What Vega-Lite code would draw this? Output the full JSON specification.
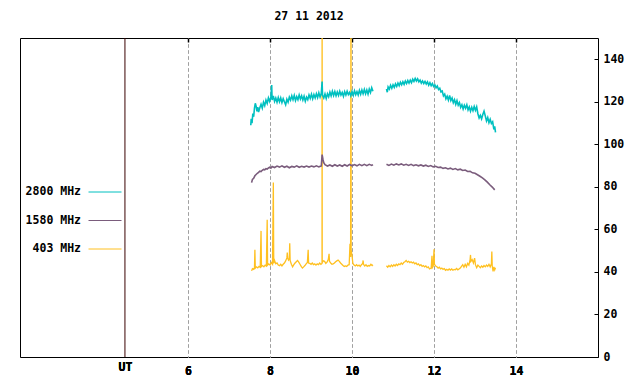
{
  "$schema": "https://vega.github.io/schema/vega-lite/v6.json",
  "width": 578,
  "height": 319,
  "autosize": {"type": "none"},
  "padding": {"left": 20, "top": 38, "right": 42, "bottom": 27},
  "title": {"text": "27 11 2012", "font": "DejaVu Sans Mono", "fontSize": 11.5, "fontWeight": "bold", "color": "#000000", "offset": 15, "anchor": "middle"},
  "config": {
    "view": {"stroke": "#000000", "strokeWidth": 1},
    "axis": {"labelFont": "DejaVu Sans Mono", "labelFontSize": 11.5, "labelFontWeight": "bold", "labelColor": "#000000", "domain": false, "title": null},
    "legend": {
      "orient": "none", "legendX": 68, "legendY": 137, "padding": 0,
      "symbolType": "stroke", "symbolSize": 1089, "symbolStrokeWidth": 1,
      "labelAlign": "right", "labelOffset": -41, "labelFont": "DejaVu Sans Mono", "labelFontSize": 11.5, "labelFontWeight": "bold", "labelColor": "#000000", "labelLimit": 200
    }
  },
  "datasets": {
    "ut": [{"t": 4.46}],
    "o": [
      {"t":7.55,"v":40.5,"p":1},{"t":7.57,"v":41.5,"p":1},{"t":7.60,"v":41.2,"p":1},{"t":7.62,"v":42,"p":1},{"t":7.63,"v":50.4,"p":1},{"t":7.64,"v":41.8,"p":1},{"t":7.67,"v":42.4,"p":1},{"t":7.70,"v":41.9,"p":1},{"t":7.73,"v":42.6,"p":1},{"t":7.76,"v":42.2,"p":1},{"t":7.78,"v":59.3,"p":1},{"t":7.79,"v":42.5,"p":1},{"t":7.82,"v":43,"p":1},{"t":7.85,"v":42.4,"p":1},{"t":7.88,"v":43.2,"p":1},{"t":7.91,"v":42.8,"p":1},{"t":7.93,"v":64.5,"p":1},{"t":7.94,"v":43.2,"p":1},{"t":7.97,"v":43.8,"p":1},{"t":8.0,"v":43.2,"p":1},{"t":8.03,"v":44.4,"p":1},{"t":8.06,"v":43.6,"p":1},{"t":8.08,"v":82,"p":1},{"t":8.09,"v":44,"p":1},{"t":8.11,"v":45.4,"p":1},{"t":8.14,"v":43.8,"p":1},{"t":8.17,"v":44.2,"p":1},{"t":8.20,"v":43.2,"p":1},{"t":8.23,"v":42.9,"p":1},{"t":8.26,"v":43.6,"p":1},{"t":8.29,"v":42.8,"p":1},{"t":8.32,"v":43.6,"p":1},{"t":8.35,"v":44.2,"p":1},{"t":8.38,"v":45.2,"p":1},{"t":8.41,"v":46.6,"p":1},{"t":8.42,"v":49.1,"p":1},{"t":8.43,"v":46.5,"p":1},{"t":8.45,"v":45.6,"p":1},{"t":8.47,"v":46.2,"p":1},{"t":8.48,"v":53.5,"p":1},{"t":8.49,"v":45.4,"p":1},{"t":8.52,"v":43.6,"p":1},{"t":8.55,"v":42.4,"p":1},{"t":8.58,"v":43.4,"p":1},{"t":8.61,"v":44.2,"p":1},{"t":8.64,"v":44.8,"p":1},{"t":8.67,"v":45.4,"p":1},{"t":8.70,"v":44.6,"p":1},{"t":8.73,"v":43.6,"p":1},{"t":8.76,"v":42.6,"p":1},{"t":8.79,"v":41.8,"p":1},{"t":8.82,"v":42.4,"p":1},{"t":8.85,"v":43,"p":1},{"t":8.88,"v":43.8,"p":1},{"t":8.91,"v":44.4,"p":1},{"t":8.93,"v":50.4,"p":1},{"t":8.94,"v":44.2,"p":1},{"t":8.97,"v":44,"p":1},{"t":9.0,"v":43.6,"p":1},{"t":9.03,"v":44.2,"p":1},{"t":9.06,"v":43.4,"p":1},{"t":9.09,"v":43.8,"p":1},{"t":9.12,"v":43.2,"p":1},{"t":9.15,"v":43.8,"p":1},{"t":9.18,"v":43.4,"p":1},{"t":9.21,"v":44.2,"p":1},{"t":9.24,"v":43.6,"p":1},{"t":9.268,"v":44,"p":1},{"t":9.27,"v":200,"p":1},{"t":9.272,"v":44.4,"p":1},{"t":9.30,"v":45.2,"p":1},{"t":9.33,"v":45,"p":1},{"t":9.36,"v":44,"p":1},{"t":9.39,"v":44.6,"p":1},{"t":9.42,"v":45.8,"p":1},{"t":9.44,"v":48.5,"p":1},{"t":9.45,"v":45,"p":1},{"t":9.48,"v":44.2,"p":1},{"t":9.51,"v":43.6,"p":1},{"t":9.54,"v":43.8,"p":1},{"t":9.57,"v":44.2,"p":1},{"t":9.60,"v":44.8,"p":1},{"t":9.63,"v":45.2,"p":1},{"t":9.66,"v":45.6,"p":1},{"t":9.69,"v":45,"p":1},{"t":9.72,"v":44.2,"p":1},{"t":9.75,"v":43.6,"p":1},{"t":9.78,"v":43,"p":1},{"t":9.81,"v":42.6,"p":1},{"t":9.84,"v":42.8,"p":1},{"t":9.87,"v":42.6,"p":1},{"t":9.90,"v":43.2,"p":1},{"t":9.93,"v":43.4,"p":1},{"t":9.95,"v":53.2,"p":1},{"t":9.965,"v":47,"p":1},{"t":9.975,"v":200,"p":1},{"t":9.978,"v":50.4,"p":1},{"t":10.0,"v":47.6,"p":1},{"t":10.02,"v":44,"p":1},{"t":10.05,"v":43.2,"p":1},{"t":10.08,"v":42.8,"p":1},{"t":10.11,"v":43.4,"p":1},{"t":10.14,"v":42.8,"p":1},{"t":10.17,"v":43.2,"p":1},{"t":10.20,"v":42.6,"p":1},{"t":10.23,"v":43.4,"p":1},{"t":10.26,"v":44,"p":1},{"t":10.27,"v":45.4,"p":1},{"t":10.28,"v":43.6,"p":1},{"t":10.31,"v":42.8,"p":1},{"t":10.34,"v":43.4,"p":1},{"t":10.37,"v":42.6,"p":1},{"t":10.40,"v":43,"p":1},{"t":10.43,"v":42.8,"p":1},{"t":10.46,"v":43.6,"p":1},{"t":10.49,"v":43,"p":1},{"t":10.51,"v":43.4,"p":1},
      {"t":10.84,"v":42.9,"p":2},{"t":10.87,"v":42.2,"p":2},{"t":10.90,"v":43,"p":2},{"t":10.93,"v":42.4,"p":2},{"t":10.96,"v":43.2,"p":2},{"t":10.99,"v":42.6,"p":2},{"t":11.02,"v":43.4,"p":2},{"t":11.05,"v":42.8,"p":2},{"t":11.08,"v":43.6,"p":2},{"t":11.11,"v":43,"p":2},{"t":11.14,"v":43.8,"p":2},{"t":11.17,"v":43.4,"p":2},{"t":11.20,"v":44.2,"p":2},{"t":11.23,"v":43.6,"p":2},{"t":11.26,"v":44.4,"p":2},{"t":11.29,"v":44.8,"p":2},{"t":11.32,"v":45.4,"p":2},{"t":11.35,"v":44.6,"p":2},{"t":11.38,"v":45,"p":2},{"t":11.41,"v":44.4,"p":2},{"t":11.44,"v":44.8,"p":2},{"t":11.47,"v":44.2,"p":2},{"t":11.50,"v":44.6,"p":2},{"t":11.53,"v":43.8,"p":2},{"t":11.56,"v":44.2,"p":2},{"t":11.59,"v":43.4,"p":2},{"t":11.62,"v":43.8,"p":2},{"t":11.65,"v":43,"p":2},{"t":11.68,"v":43.4,"p":2},{"t":11.71,"v":42.6,"p":2},{"t":11.74,"v":43,"p":2},{"t":11.77,"v":42.4,"p":2},{"t":11.80,"v":42.8,"p":2},{"t":11.83,"v":42,"p":2},{"t":11.86,"v":42.4,"p":2},{"t":11.89,"v":41.4,"p":2},{"t":11.93,"v":41.8,"p":2},{"t":11.95,"v":47.6,"p":2},{"t":11.96,"v":42,"p":2},{"t":11.98,"v":42.6,"p":2},{"t":12.0,"v":50.7,"p":2},{"t":12.01,"v":43.6,"p":2},{"t":12.04,"v":42.8,"p":2},{"t":12.07,"v":42.4,"p":2},{"t":12.10,"v":41.8,"p":2},{"t":12.13,"v":42.2,"p":2},{"t":12.16,"v":41.4,"p":2},{"t":12.19,"v":41.8,"p":2},{"t":12.22,"v":41.2,"p":2},{"t":12.25,"v":41.6,"p":2},{"t":12.28,"v":40.8,"p":2},{"t":12.31,"v":41.2,"p":2},{"t":12.34,"v":40.8,"p":2},{"t":12.37,"v":41.4,"p":2},{"t":12.40,"v":40.9,"p":2},{"t":12.43,"v":41.4,"p":2},{"t":12.46,"v":40.8,"p":2},{"t":12.49,"v":41.2,"p":2},{"t":12.52,"v":41,"p":2},{"t":12.55,"v":41.6,"p":2},{"t":12.58,"v":41,"p":2},{"t":12.61,"v":41.4,"p":2},{"t":12.64,"v":41.8,"p":2},{"t":12.67,"v":42.6,"p":2},{"t":12.70,"v":43.4,"p":2},{"t":12.73,"v":42.2,"p":2},{"t":12.76,"v":43.6,"p":2},{"t":12.79,"v":42.4,"p":2},{"t":12.82,"v":44,"p":2},{"t":12.85,"v":43.2,"p":2},{"t":12.88,"v":45.8,"p":2},{"t":12.89,"v":48,"p":2},{"t":12.90,"v":45,"p":2},{"t":12.93,"v":45.8,"p":2},{"t":12.96,"v":44.2,"p":2},{"t":12.99,"v":46.5,"p":2},{"t":13.01,"v":43.4,"p":2},{"t":13.04,"v":42,"p":2},{"t":13.07,"v":43.2,"p":2},{"t":13.10,"v":42.6,"p":2},{"t":13.13,"v":42,"p":2},{"t":13.16,"v":42.8,"p":2},{"t":13.19,"v":42.2,"p":2},{"t":13.22,"v":43,"p":2},{"t":13.25,"v":42.4,"p":2},{"t":13.28,"v":43.2,"p":2},{"t":13.31,"v":42.6,"p":2},{"t":13.34,"v":43.6,"p":2},{"t":13.37,"v":42.4,"p":2},{"t":13.40,"v":43.8,"p":2},{"t":13.41,"v":49.6,"p":2},{"t":13.42,"v":42.8,"p":2},{"t":13.44,"v":40.2,"p":2},{"t":13.46,"v":42.4,"p":2},{"t":13.48,"v":41,"p":2},{"t":13.50,"v":42,"p":2}
    ],
    "pu": [
      {"t":7.55,"v":82,"p":1},{"t":7.57,"v":83.5,"p":1},{"t":7.60,"v":84,"p":1},{"t":7.63,"v":85.2,"p":1},{"t":7.66,"v":85.8,"p":1},{"t":7.69,"v":86.4,"p":1},{"t":7.72,"v":86.8,"p":1},{"t":7.75,"v":87.4,"p":1},{"t":7.78,"v":87.2,"p":1},{"t":7.81,"v":87.8,"p":1},{"t":7.84,"v":88.2,"p":1},{"t":7.87,"v":88,"p":1},{"t":7.90,"v":88.6,"p":1},{"t":7.93,"v":88.4,"p":1},{"t":7.96,"v":88.9,"p":1},{"t":7.99,"v":89.2,"p":1},{"t":8.02,"v":88.8,"p":1},{"t":8.05,"v":89.6,"p":1},{"t":8.11,"v":89.1,"p":1},{"t":8.17,"v":89.8,"p":1},{"t":8.23,"v":89.3,"p":1},{"t":8.29,"v":89.9,"p":1},{"t":8.35,"v":89.2,"p":1},{"t":8.41,"v":89.7,"p":1},{"t":8.47,"v":89.0,"p":1},{"t":8.53,"v":89.6,"p":1},{"t":8.59,"v":89.3,"p":1},{"t":8.65,"v":89.9,"p":1},{"t":8.71,"v":89.2,"p":1},{"t":8.77,"v":89.7,"p":1},{"t":8.83,"v":89.3,"p":1},{"t":8.89,"v":89.8,"p":1},{"t":8.95,"v":89.3,"p":1},{"t":9.01,"v":89.8,"p":1},{"t":9.07,"v":89.4,"p":1},{"t":9.13,"v":89.9,"p":1},{"t":9.19,"v":89.4,"p":1},{"t":9.25,"v":89.8,"p":1},{"t":9.27,"v":95.2,"p":1},{"t":9.29,"v":93,"p":1},{"t":9.31,"v":91.4,"p":1},{"t":9.34,"v":90.4,"p":1},{"t":9.40,"v":89.8,"p":1},{"t":9.46,"v":90.3,"p":1},{"t":9.52,"v":89.7,"p":1},{"t":9.58,"v":90.4,"p":1},{"t":9.64,"v":89.8,"p":1},{"t":9.70,"v":90.3,"p":1},{"t":9.76,"v":89.7,"p":1},{"t":9.82,"v":90.4,"p":1},{"t":9.88,"v":89.8,"p":1},{"t":9.94,"v":90.5,"p":1},{"t":10.0,"v":89.9,"p":1},{"t":10.06,"v":90.5,"p":1},{"t":10.12,"v":89.9,"p":1},{"t":10.18,"v":90.6,"p":1},{"t":10.24,"v":90,"p":1},{"t":10.30,"v":90.6,"p":1},{"t":10.36,"v":90,"p":1},{"t":10.42,"v":90.6,"p":1},{"t":10.48,"v":90.1,"p":1},{"t":10.51,"v":90.5,"p":1},
      {"t":10.84,"v":90.6,"p":2},{"t":10.90,"v":90.1,"p":2},{"t":10.96,"v":90.7,"p":2},{"t":11.02,"v":90.2,"p":2},{"t":11.08,"v":90.8,"p":2},{"t":11.14,"v":90.3,"p":2},{"t":11.20,"v":90.8,"p":2},{"t":11.26,"v":90.2,"p":2},{"t":11.32,"v":90.6,"p":2},{"t":11.38,"v":90.1,"p":2},{"t":11.44,"v":90.6,"p":2},{"t":11.50,"v":90.0,"p":2},{"t":11.56,"v":90.4,"p":2},{"t":11.62,"v":89.9,"p":2},{"t":11.68,"v":90.3,"p":2},{"t":11.74,"v":89.8,"p":2},{"t":11.80,"v":90.2,"p":2},{"t":11.86,"v":89.6,"p":2},{"t":11.92,"v":90,"p":2},{"t":11.98,"v":89.4,"p":2},{"t":12.04,"v":89.7,"p":2},{"t":12.10,"v":89.1,"p":2},{"t":12.16,"v":89.3,"p":2},{"t":12.22,"v":88.7,"p":2},{"t":12.28,"v":89,"p":2},{"t":12.34,"v":88.4,"p":2},{"t":12.40,"v":88.8,"p":2},{"t":12.46,"v":88.2,"p":2},{"t":12.52,"v":88.6,"p":2},{"t":12.58,"v":88,"p":2},{"t":12.64,"v":88.3,"p":2},{"t":12.70,"v":87.7,"p":2},{"t":12.76,"v":87.9,"p":2},{"t":12.82,"v":87.2,"p":2},{"t":12.88,"v":87.3,"p":2},{"t":12.94,"v":86.6,"p":2},{"t":13.00,"v":86.4,"p":2},{"t":13.06,"v":85.7,"p":2},{"t":13.12,"v":85.0,"p":2},{"t":13.18,"v":84.2,"p":2},{"t":13.24,"v":83.3,"p":2},{"t":13.30,"v":82.2,"p":2},{"t":13.36,"v":81.0,"p":2},{"t":13.42,"v":79.9,"p":2},{"t":13.48,"v":78.6,"p":2}
    ],
    "cy": [
      {"t":7.53,"v":109,"p":1},{"t":7.54,"v":112,"p":1},{"t":7.56,"v":110,"p":1},{"t":7.58,"v":114.5,"p":1},{"t":7.60,"v":113,"p":1},{"t":7.62,"v":117,"p":1},{"t":7.64,"v":119.3,"p":1},{"t":7.66,"v":118,"p":1},{"t":7.68,"v":115.5,"p":1},{"t":7.70,"v":117.5,"p":1},{"t":7.72,"v":115.2,"p":1},{"t":7.75,"v":117.2,"p":1},{"t":7.78,"v":118.8,"p":1},{"t":7.81,"v":117,"p":1},{"t":7.84,"v":119.8,"p":1},{"t":7.87,"v":118.2,"p":1},{"t":7.90,"v":120.8,"p":1},{"t":7.93,"v":119.2,"p":1},{"t":7.96,"v":121.8,"p":1},{"t":7.99,"v":120.2,"p":1},{"t":8.02,"v":122.2,"p":1},{"t":8.04,"v":127.9,"p":1},{"t":8.05,"v":120.8,"p":1},{"t":8.08,"v":122.8,"p":1},{"t":8.11,"v":120.2,"p":1},{"t":8.14,"v":121.8,"p":1},{"t":8.17,"v":119.8,"p":1},{"t":8.20,"v":122,"p":1},{"t":8.23,"v":120,"p":1},{"t":8.26,"v":121.8,"p":1},{"t":8.29,"v":119.6,"p":1},{"t":8.32,"v":121.5,"p":1},{"t":8.35,"v":120,"p":1},{"t":8.38,"v":118.6,"p":1},{"t":8.41,"v":121.2,"p":1},{"t":8.44,"v":119.8,"p":1},{"t":8.47,"v":122.2,"p":1},{"t":8.50,"v":120.8,"p":1},{"t":8.53,"v":122.8,"p":1},{"t":8.56,"v":121,"p":1},{"t":8.59,"v":123,"p":1},{"t":8.62,"v":120.6,"p":1},{"t":8.65,"v":122.4,"p":1},{"t":8.68,"v":121,"p":1},{"t":8.71,"v":123.2,"p":1},{"t":8.74,"v":121.3,"p":1},{"t":8.77,"v":122.8,"p":1},{"t":8.80,"v":120.8,"p":1},{"t":8.83,"v":122.6,"p":1},{"t":8.86,"v":120.3,"p":1},{"t":8.89,"v":122.2,"p":1},{"t":8.92,"v":121,"p":1},{"t":8.95,"v":123.2,"p":1},{"t":8.98,"v":121.6,"p":1},{"t":9.01,"v":123.6,"p":1},{"t":9.04,"v":121.4,"p":1},{"t":9.07,"v":123.4,"p":1},{"t":9.10,"v":121.8,"p":1},{"t":9.13,"v":123.8,"p":1},{"t":9.16,"v":122,"p":1},{"t":9.19,"v":124.2,"p":1},{"t":9.22,"v":122.2,"p":1},{"t":9.25,"v":124,"p":1},{"t":9.27,"v":129.5,"p":1},{"t":9.28,"v":123,"p":1},{"t":9.31,"v":121.8,"p":1},{"t":9.34,"v":123.7,"p":1},{"t":9.37,"v":121.6,"p":1},{"t":9.40,"v":123.8,"p":1},{"t":9.43,"v":122.4,"p":1},{"t":9.46,"v":124.6,"p":1},{"t":9.49,"v":122.8,"p":1},{"t":9.52,"v":125,"p":1},{"t":9.55,"v":123,"p":1},{"t":9.58,"v":124.8,"p":1},{"t":9.61,"v":122.8,"p":1},{"t":9.64,"v":124.6,"p":1},{"t":9.67,"v":123,"p":1},{"t":9.70,"v":125,"p":1},{"t":9.73,"v":123.2,"p":1},{"t":9.76,"v":124.4,"p":1},{"t":9.79,"v":122.6,"p":1},{"t":9.82,"v":124.8,"p":1},{"t":9.85,"v":123.2,"p":1},{"t":9.88,"v":125,"p":1},{"t":9.91,"v":123.4,"p":1},{"t":9.94,"v":124.4,"p":1},{"t":9.97,"v":122.8,"p":1},{"t":10.0,"v":124.8,"p":1},{"t":10.03,"v":123,"p":1},{"t":10.06,"v":125.2,"p":1},{"t":10.09,"v":123.4,"p":1},{"t":10.12,"v":124.8,"p":1},{"t":10.15,"v":123.2,"p":1},{"t":10.18,"v":125.4,"p":1},{"t":10.21,"v":123.6,"p":1},{"t":10.24,"v":125.6,"p":1},{"t":10.27,"v":123.8,"p":1},{"t":10.30,"v":125.8,"p":1},{"t":10.33,"v":123.8,"p":1},{"t":10.36,"v":125.6,"p":1},{"t":10.39,"v":123.6,"p":1},{"t":10.42,"v":126,"p":1},{"t":10.45,"v":124.4,"p":1},{"t":10.48,"v":126.6,"p":1},{"t":10.51,"v":125,"p":1},
      {"t":10.84,"v":126,"p":2},{"t":10.86,"v":124.5,"p":2},{"t":10.88,"v":127,"p":2},{"t":10.91,"v":126,"p":2},{"t":10.94,"v":127.8,"p":2},{"t":10.97,"v":126.4,"p":2},{"t":11.0,"v":128,"p":2},{"t":11.03,"v":126.8,"p":2},{"t":11.06,"v":128.4,"p":2},{"t":11.09,"v":127.2,"p":2},{"t":11.12,"v":128.8,"p":2},{"t":11.15,"v":127.6,"p":2},{"t":11.18,"v":129.2,"p":2},{"t":11.21,"v":128,"p":2},{"t":11.24,"v":129.4,"p":2},{"t":11.27,"v":128.2,"p":2},{"t":11.30,"v":129.8,"p":2},{"t":11.33,"v":128.6,"p":2},{"t":11.36,"v":130,"p":2},{"t":11.39,"v":128.8,"p":2},{"t":11.42,"v":130.2,"p":2},{"t":11.45,"v":129,"p":2},{"t":11.48,"v":130.6,"p":2},{"t":11.51,"v":129.6,"p":2},{"t":11.54,"v":131,"p":2},{"t":11.57,"v":129.8,"p":2},{"t":11.60,"v":130.8,"p":2},{"t":11.63,"v":129.4,"p":2},{"t":11.66,"v":130.2,"p":2},{"t":11.69,"v":128.8,"p":2},{"t":11.72,"v":129.8,"p":2},{"t":11.75,"v":128.6,"p":2},{"t":11.78,"v":129.6,"p":2},{"t":11.81,"v":128.4,"p":2},{"t":11.84,"v":129.4,"p":2},{"t":11.87,"v":127.8,"p":2},{"t":11.90,"v":129,"p":2},{"t":11.93,"v":127.6,"p":2},{"t":11.96,"v":128.6,"p":2},{"t":11.99,"v":127.2,"p":2},{"t":12.02,"v":128,"p":2},{"t":12.05,"v":126.6,"p":2},{"t":12.08,"v":127.4,"p":2},{"t":12.11,"v":125.8,"p":2},{"t":12.14,"v":126.4,"p":2},{"t":12.17,"v":124.6,"p":2},{"t":12.20,"v":125,"p":2},{"t":12.23,"v":122.8,"p":2},{"t":12.26,"v":123.6,"p":2},{"t":12.29,"v":121.4,"p":2},{"t":12.32,"v":122.6,"p":2},{"t":12.35,"v":120.8,"p":2},{"t":12.38,"v":123,"p":2},{"t":12.41,"v":120.6,"p":2},{"t":12.44,"v":121.8,"p":2},{"t":12.47,"v":119.6,"p":2},{"t":12.50,"v":121,"p":2},{"t":12.53,"v":118.8,"p":2},{"t":12.56,"v":120.6,"p":2},{"t":12.59,"v":118.4,"p":2},{"t":12.62,"v":119.6,"p":2},{"t":12.65,"v":117.4,"p":2},{"t":12.68,"v":118.6,"p":2},{"t":12.71,"v":116.6,"p":2},{"t":12.74,"v":118.4,"p":2},{"t":12.77,"v":117,"p":2},{"t":12.80,"v":118.6,"p":2},{"t":12.83,"v":116.2,"p":2},{"t":12.86,"v":117.6,"p":2},{"t":12.89,"v":115.6,"p":2},{"t":12.92,"v":117.4,"p":2},{"t":12.95,"v":115.8,"p":2},{"t":12.98,"v":117.8,"p":2},{"t":13.01,"v":116,"p":2},{"t":13.04,"v":117.6,"p":2},{"t":13.07,"v":114.4,"p":2},{"t":13.10,"v":112.4,"p":2},{"t":13.13,"v":113.6,"p":2},{"t":13.16,"v":112,"p":2},{"t":13.19,"v":114,"p":2},{"t":13.22,"v":115.6,"p":2},{"t":13.25,"v":113.4,"p":2},{"t":13.28,"v":111,"p":2},{"t":13.31,"v":112.6,"p":2},{"t":13.34,"v":110.2,"p":2},{"t":13.37,"v":111.8,"p":2},{"t":13.40,"v":109.8,"p":2},{"t":13.43,"v":110.6,"p":2},{"t":13.46,"v":107,"p":2},{"t":13.48,"v":108.4,"p":2},{"t":13.50,"v":105.6,"p":2}
    ]
  },
  "encoding": {
    "x": {"field": "t", "type": "quantitative", "scale": {"domain": [1.9, 16], "nice": false, "zero": false},
      "axis": {"orient": "bottom", "values": [4.46, 6, 8, 10, 12, 14], "labelExpr": "datum.value < 5 ? 'UT' : datum.label", "ticks": false,
        "labelPadding": {"condition": {"test": "datum.value < 5", "value": 4}, "value": 8}, "labelBaseline": "top",
        "grid": true, "gridColor": "#a0a0a0", "gridDash": [3, 3], "gridWidth": 1,
        "gridOpacity": {"condition": {"test": "datum.value < 5", "value": 0}, "value": 1}}},
    "y": {"field": "v", "type": "quantitative", "scale": {"domain": [0, 150], "nice": false},
      "axis": {"orient": "right", "values": [0, 20, 40, 60, 80, 100, 120, 140], "grid": false, "tickSize": -4, "tickColor": "#000000", "labelPadding": 9}}
  },
  "layer": [
    {
      "data": {"name": "ut"},
      "mark": {"type": "rule", "color": "#3a0000", "strokeWidth": 1},
      "encoding": {
        "x": {"field": "t", "type": "quantitative",
          "axis": {"orient": "top", "values": [6, 8, 10, 12, 14], "labels": false, "grid": false, "ticks": true, "tickSize": -4, "tickColor": "#000000", "tickWidth": 1.5}},
        "y": null
      }
    },
    {
      "data": {"name": "o"},
      "mark": {"type": "line", "strokeWidth": 1.3, "clip": true},
      "encoding": {
        "color": {"datum": "403 MHz", "type": "nominal", "scale": {"domain": ["2800 MHz", "1580 MHz", "403 MHz"], "range": ["#00c0c0", "#7a5c7c", "#ffc020"]}, "legend": {"title": null, "rowPadding": 5.5}},
        "detail": {"field": "p", "type": "nominal"}
      }
    },
    {
      "data": {"name": "pu"},
      "mark": {"type": "line", "strokeWidth": 1.6, "clip": true},
      "encoding": {
        "color": {"datum": "1580 MHz", "type": "nominal"},
        "detail": {"field": "p", "type": "nominal"}
      }
    },
    {
      "data": {"name": "cy"},
      "mark": {"type": "line", "strokeWidth": 1.6, "clip": true},
      "encoding": {
        "color": {"datum": "2800 MHz", "type": "nominal"},
        "detail": {"field": "p", "type": "nominal"}
      }
    }
  ]
}
